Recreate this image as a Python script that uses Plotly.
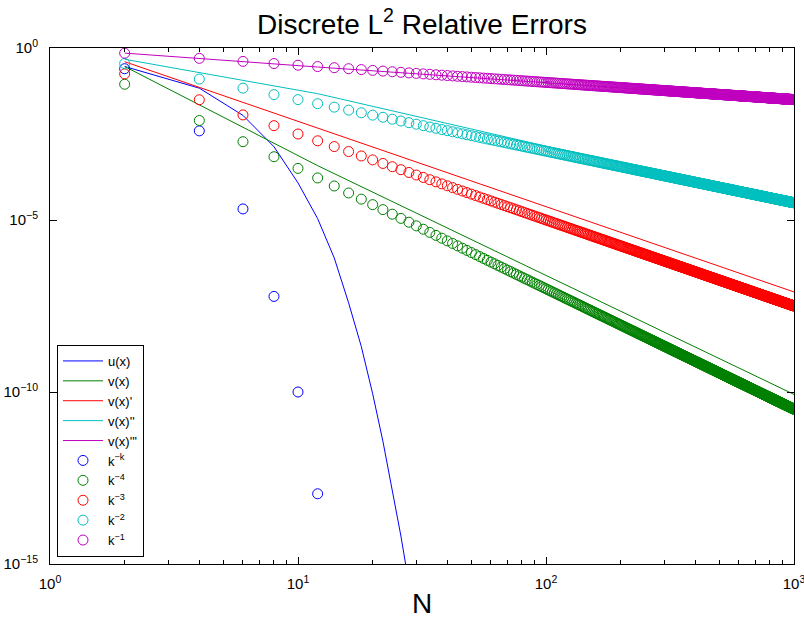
import plotly.graph_objects as go
import numpy as np

# ---------------- data ----------------
# u(x) error curve (blue line), evaluated at even N
N_u = [2, 4, 6, 8, 10, 12, 14, 16, 18, 20, 22, 24, 26, 28]
err_u = [2.9e-1, 6.8e-2, 1.1e-2, 1.35e-3, 1.2e-4, 1.1e-5, 7.9e-7, 3.9e-8,
         2.1e-9, 8.9e-11, 3.7e-12, 1.5e-13, 6.5e-15, 2.7e-16]

# v(x) and derivative error lines (read at a few N along each line)
N_v = [2, 4, 12, 100, 1000]
err_v = [2.9e-1, 2.2e-2, 3.8e-4, 2.45e-7, 8.5e-11]
N_v1 = [2, 12, 100, 1000]
err_v1 = [4.0e-1, 4.7e-3, 2.45e-5, 8.1e-8]
N_v2 = [2, 4, 12, 100, 1000]
err_v2 = [4.7e-1, 1.9e-1, 4.7e-2, 1.4e-3, 3.8e-5]
N_v3 = [2, 12, 100, 1000]
err_v3 = [7.1e-1, 2.8e-1, 9.8e-2, 3.1e-2]

# reference circles k^-k (only those inside the axes)
N_kk = [2, 4, 6, 8, 10, 12]
ref_kk = [2.5e-1, 3.9e-3, 2.1e-5, 6.0e-8, 1.0e-10, 1.1e-13]

# reference-rate circles at N = 2, 4, ..., 1000 (power laws:
# coefficient ~1 and the slopes measured in log-log space)
N_ref = np.arange(2, 1001, 2)
ref_labels = ["k<sup>\u22124</sup>", "k<sup>\u22123</sup>", "k<sup>\u22122</sup>", "k<sup>\u22121</sup>"]
ref_coef = [1.0, 1.0, 1.0, 1.0]
ref_slope = [-3.5, -2.5, -1.5, -0.5]

x_tickvals = [1, 10, 100, 1000]
x_ticktext = ["10<sup>0</sup>", "10<sup>1</sup>", "10<sup>2</sup>", "10<sup>3</sup>"]
y_tickvals = [1e-15, 1e-10, 1e-5, 1]
y_ticktext = ["10<sup>\u221215</sup>", "10<sup>\u221210</sup>", "10<sup>\u22125</sup>", "10<sup>0</sup>"]
x_minor = [m * 10 ** d for d in range(3) for m in range(2, 10)]

# ---------------- styling ----------------
BLUE = "#0000FF"
GREEN = "#008000"
RED = "#FF0000"
CYAN = "#00BFBF"
MAGENTA = "#BF00BF"
FONT = "Liberation Sans, Arial, Helvetica, sans-serif"

fig = go.Figure()

line_series = [
    (N_u, err_u, "u(x)", BLUE),
    (N_v, err_v, "v(x)", GREEN),
    (N_v1, err_v1, "v(x)'", RED),
    (N_v2, err_v2, "v(x)''", CYAN),
    (N_v3, err_v3, "v(x)'''", MAGENTA),
]
for xs, ys, name, col in line_series:
    fig.add_trace(go.Scatter(x=xs, y=ys, mode="lines", name=name,
                             line=dict(color=col, width=1)))

fig.add_trace(go.Scatter(x=N_kk, y=ref_kk, mode="markers", name="k<sup>\u2212k</sup>",
                         marker=dict(symbol="circle-open", size=10, color=BLUE,
                                     line=dict(width=1, color=BLUE))))
for lab, c, s, col in zip(ref_labels, ref_coef, ref_slope, [GREEN, RED, CYAN, MAGENTA]):
    fig.add_trace(go.Scatter(x=N_ref, y=c * N_ref.astype(float) ** s, mode="markers", name=lab,
                             marker=dict(symbol="circle-open", size=10, color=col,
                                         line=dict(width=1, color=col))))

axis_common = dict(
    type="log", showgrid=False, zeroline=False, showline=True, linecolor="black",
    linewidth=1, mirror="ticks", ticks="inside", ticklen=7, tickwidth=1,
    tickcolor="black", tickfont=dict(family=FONT, size=15, color="black"),
    automargin=False,
)

fig.update_layout(
    width=804, height=621,
    margin=dict(l=50, r=10, t=48, b=57),
    paper_bgcolor="white", plot_bgcolor="white",
    font=dict(family=FONT, color="black"),
    title=dict(text="Discrete L<sup>2</sup> Relative Errors", font=dict(size=28, family=FONT, color="black"),
               xref="paper", x=0.5, xanchor="center", yref="container", y=1 - 24 / 621, yanchor="middle"),
    xaxis=dict(**axis_common, range=[0, 3], tickmode="array", tickvals=x_tickvals, ticktext=x_ticktext,
               ticklabeloverflow="allow", ticklabelstandoff=6,
               minor=dict(tickmode="array", tickvals=x_minor, ticks="inside", ticklen=4,
                          tickcolor="black", tickwidth=1, showgrid=False),
               title=dict(text="N", font=dict(size=28, family=FONT, color="black"), standoff=2)),
    yaxis=dict(**axis_common, range=[-15, 0], tickmode="array", tickvals=y_tickvals, ticktext=y_ticktext,
               ticklabelstandoff=8),
    showlegend=True,
    legend=dict(x=0.0094, y=0.0136, xanchor="left", yanchor="bottom", bgcolor="white",
                bordercolor="black", borderwidth=1, font=dict(size=13, family=FONT, color="black"),
                tracegroupgap=0, itemwidth=40),
)

fig.write_html("out.html")
